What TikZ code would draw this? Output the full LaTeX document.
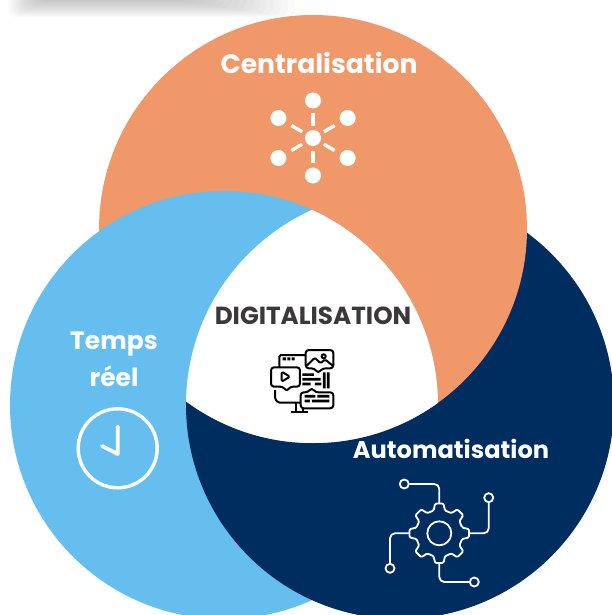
\documentclass[tikz,border=0pt]{standalone}
\usepackage{fontspec}
\setmainfont{Poppins}
\definecolor{orangeV}{HTML}{F09869}
\definecolor{blueV}{HTML}{66BEEF}
\definecolor{navyV}{HTML}{002D5F}
\definecolor{greyT}{HTML}{3A3838}
\tikzset{
    lbl/.style={text=white,font=\fontsize{25pt}{30pt}\selectfont\bfseries,inner sep=0pt},
    pindot/.style={circle,draw=white,line width=1.8pt,inner sep=0pt,minimum size=9pt},
    hubdot/.style={circle,fill=white,inner sep=0pt,minimum size=16pt},
    gearline/.style={draw=white,line width=1.8pt,line join=round},
    mediaicon/.style={draw=black,line width=2pt,line join=round,rounded corners=1.5pt}
}
\begin{document}
\begin{tikzpicture}[x=1pt,y=-1pt]
    \useasboundingbox (0,0) rectangle (611,615);

    % shadow at the top
    \foreach \s in {0,...,15} {
        \fill[black,opacity=0.016,rounded corners=8pt] (38-2*\s,-20) rectangle (190+7*\s,1+1.1*\s);
    }

    % the three circles
    \fill[fill=blueV] (224,405) circle (214pt);
    \fill[fill=navyV] (400,405) circle (214pt);
    \fill[fill=orangeV] (313,229) circle (214pt);
    \begin{scope}
        \clip (313,229) circle (214pt);
        \fill[fill=blueV] (224,405) circle (214pt);
        \clip (224,405) circle (214pt);
        \fill[fill=white] (400,405) circle (214pt);
    \end{scope}
    \begin{scope}
        \clip (0,200) rectangle (185,398);
        \clip (224,405) circle (214pt);
        \draw[blueV,line width=1pt] (313,229) circle (214pt);
    \end{scope}

    % labels
    \node[lbl,font=\fontsize{26.6pt}{30pt}\selectfont\bfseries] (central) at (319,63) {Centralisation};
    \node[lbl] (temps) at (114,344) {Temps};
    \node[lbl] (reel) at (114,376) {réel};
    \node[lbl,font=\fontsize{24.1pt}{30pt}\selectfont\bfseries] (autom) at (451,449) {Automatisation};
    \node[lbl,text=greyT,font=\fontsize{24.7pt}{30pt}\selectfont\bfseries] (digit) at (313,316) {DIGITALISATION};

    % hub icon
    \begin{scope}[shift={(313,138)}]
        \node[hubdot] (hub) at (0,0) {};
        \foreach \a/\r in {90/37.5,30/40,-30/40,-90/37.5,-150/40,150/40} {
            \node[hubdot] at (\a:\r) {};
            \draw[white,line width=3.4pt] (\a:12.5) -- (\a:25);
        }
    \end{scope}

    % clock icon
    \draw[white,line width=3.4pt] (117.7,448.3) circle (39.5pt);
    \draw[white,line width=3.8pt,line cap=round,line join=round] (117.7,426.5) -- (117.7,454) -- (102,446);

    % gear icon
    \begin{scope}[shift={(439.3,533.3)}]
        \draw[gearline,rounded corners=1.2pt] (-14:23.5)
            \foreach \a in {0,45,...,315} { -- ({\a-14}:23.5) -- ({\a-8}:30) -- ({\a+8}:30) -- ({\a+14}:23.5) } -- cycle;
        \draw[gearline] (0,0) circle (12pt);
        \coordinate (gearN) at (0,-30);
        \coordinate (gearE) at (30,0);
        \coordinate (gearS) at (0,30);
        \coordinate (gearW) at (-30,0);
    \end{scope}
    \node[pindot] (pinN) at (404.3,484) {};
    \node[pindot] (pinE) at (488.7,497.7) {};
    \node[pindot] (pinS) at (474.3,582) {};
    \node[pindot] (pinW) at (390,568.3) {};
    \draw[gearline,rounded corners=5pt] (pinN) -| (gearN);
    \draw[gearline,rounded corners=5pt] (pinE) |- (gearE);
    \draw[gearline,rounded corners=5pt] (pinS) -| (gearS);
    \draw[gearline,rounded corners=5pt] (pinW) |- (gearW);

    % media icon, in the pixels of a 3x crop
    \begin{scope}[shift={(250,335)},x=0.3333pt,y=-0.3333pt]
        % window behind
        \draw[mediaicon] (88,97) -- (88,60) -- (165,60);
        \fill (98,67) rectangle (108,76) (112,67) rectangle (121,76) (125,67) rectangle (134,76);
        % image bubble
        \draw[mediaicon,rounded corners=3pt] (167,45) -- (250,45) -- (250,100) -- (217,100) -- (205,115) -- (193,100) -- (167,100) -- cycle;
        \draw[mediaicon] (170,92) -- (195,68) -- (212,85) -- (225,73) -- (248,92);
        \draw[mediaicon] (221,64) circle (6);
        % video bubble
        \draw[mediaicon,rounded corners=3pt] (63,97) -- (150,97) -- (150,155) -- (120,155) -- (110,170) -- (100,155) -- (63,155) -- cycle;
        \draw[mediaicon] (95,110) -- (120,125) -- (95,140) -- cycle;
        % text lines
        \fill (157,115) rectangle (192,123) (157,129) rectangle (212,137) (157,143) rectangle (182,151) (195,143) rectangle (214,151);
        \fill (219,112) rectangle (227,160) (231,112) rectangle (239,160);
        % comment bubble
        \draw[mediaicon,rounded corners=3pt] (152,172) -- (174,172) -- (185,158) -- (196,172) -- (250,172) -- (250,220) -- (152,220) -- cycle;
        \fill (164,180) rectangle (196,188) (202,180) rectangle (238,188) (164,194) rectangle (180,202) (186,194) rectangle (238,202);
        % monitor
        \draw[mediaicon] (75,165) -- (75,192) -- (85,203) -- (150,203);
        \draw[mediaicon] (137,205) -- (137,232) (158,222) -- (158,232);
        \draw[mediaicon] (122,232) -- (175,232);
    \end{scope}
\end{tikzpicture}
\end{document}
